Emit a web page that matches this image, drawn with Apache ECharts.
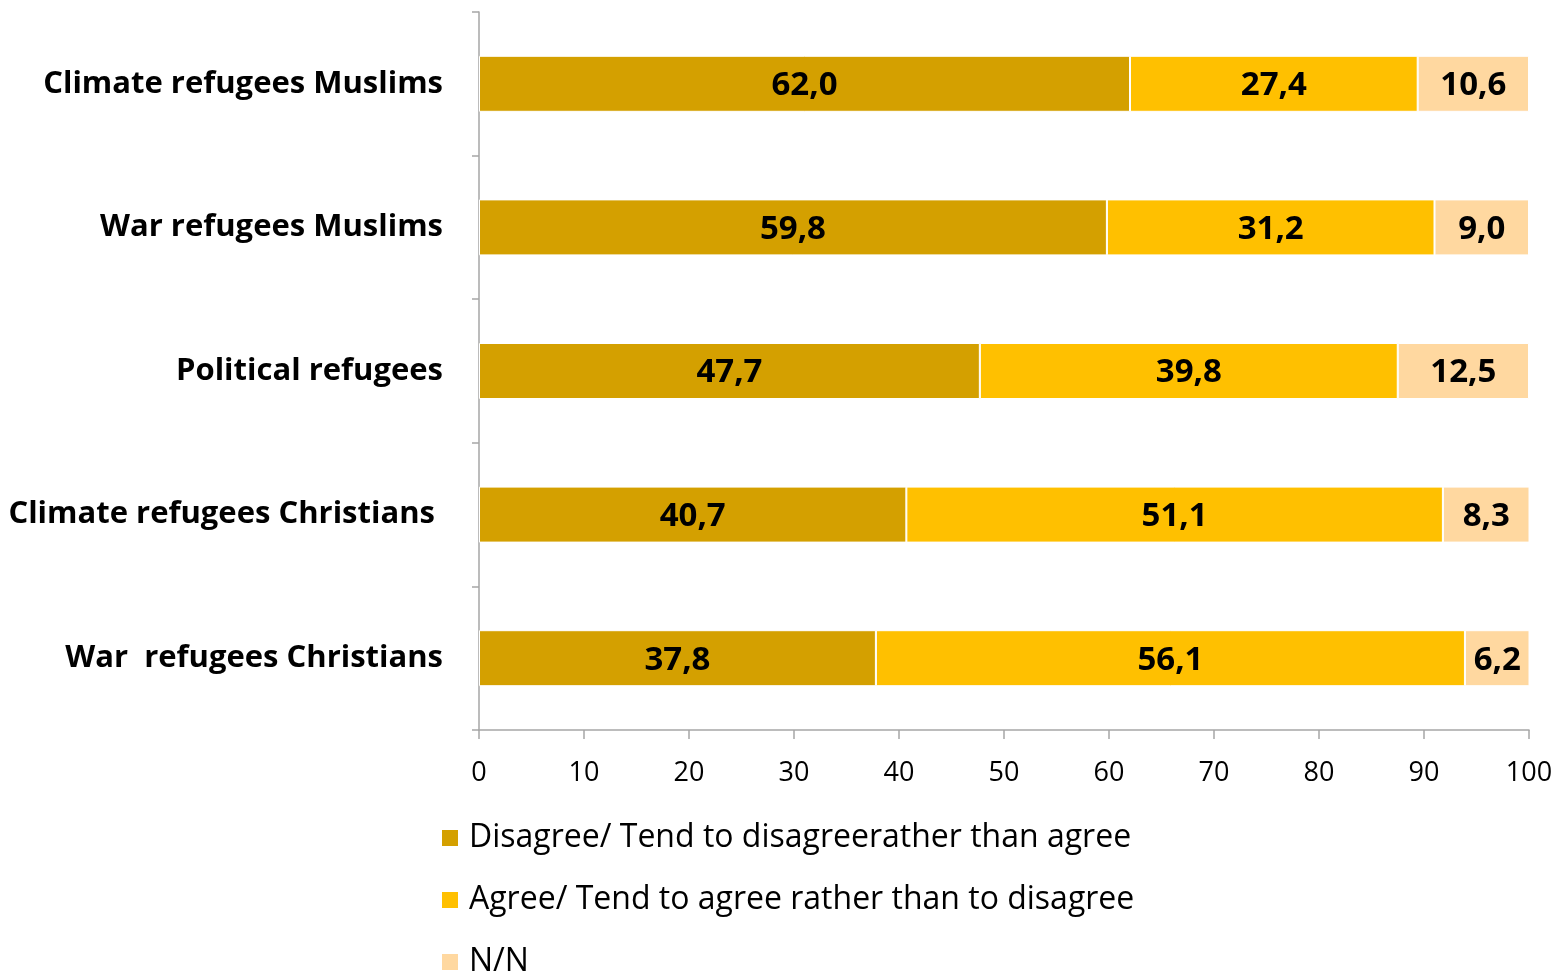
<!DOCTYPE html>
<html><head><meta charset="utf-8">
<script src="https://cdn.jsdelivr.net/npm/echarts@6/dist/echarts.min.js"></script>
<style>html,body{margin:0;padding:0;background:#fff}#c{width:1556px;height:975px}</style>
</head><body><div id="c"></div>
<script>
const categories = ["Climate refugees Muslims","War refugees Muslims","Political refugees","Climate refugees Christians ","War  refugees Christians"];
const seriesNames = ["Disagree/ Tend to disagreerather than agree","Agree/ Tend to agree rather than to disagree","N/N"];
const disagree = [62.0,59.8,47.7,40.7,37.8];
const agree = [27.4,31.2,39.8,51.1,56.1];
const nn = [10.6,9.0,12.5,8.3,6.2];
const xTicks = [0,10,20,30,40,50,60,70,80,90,100];
const colors = ["#D4A000","#FFC000","#FFD8A0"];
const FONT = "Open Sans";
const fmt = p => p.value.toFixed(1).replace('.', ',');
function mk(name, data, color){
  return {name, type:'bar', stack:'s', data, barWidth:56,
    itemStyle:{color, borderColor:'#fff', borderWidth:1},
    label:{show:true, position:'inside', formatter:fmt, color:'#000', fontFamily:FONT, fontWeight:'bold', fontSize:33, offset:[0,2]},
    emphasis:{disabled:true}};
}
const chart = echarts.init(document.getElementById('c'));
chart.setOption({
  animation:false,
  textStyle:{fontFamily:FONT},
  grid:{left:479, right:27, top:12, bottom:245, containLabel:false},
  xAxis:{type:'value', min:0, max:100, interval:10,
    axisLine:{show:true, lineStyle:{color:'#A6A6A6', width:1.5}},
    axisTick:{show:true, length:9, lineStyle:{color:'#A6A6A6', width:1.5}},
    splitLine:{show:false},
    axisLabel:{color:'#000', fontSize:27, fontFamily:FONT, margin:30, formatter:v => xTicks.includes(v) ? String(v) : ''}},
  yAxis:{type:'category', data:categories, inverse:true,
    axisLine:{show:true, lineStyle:{color:'#A6A6A6', width:1.5}},
    axisTick:{show:true, length:7, lineStyle:{color:'#A6A6A6', width:1.5}},
    axisLabel:{color:'#000', fontSize:31, fontWeight:'bold', fontFamily:FONT, margin:36}},
  legend:{orient:'vertical', left:440, top:822, height:300, padding:0, itemWidth:18, itemHeight:18, itemGap:30,
    icon:'rect', data:seriesNames,
    textStyle:{fontSize:32, color:'#000', fontFamily:FONT, lineHeight:30, padding:[0,0,0,5]}},
  series:[mk(seriesNames[0], disagree, colors[0]), mk(seriesNames[1], agree, colors[1]), mk(seriesNames[2], nn, colors[2])]
});
</script></body></html>
